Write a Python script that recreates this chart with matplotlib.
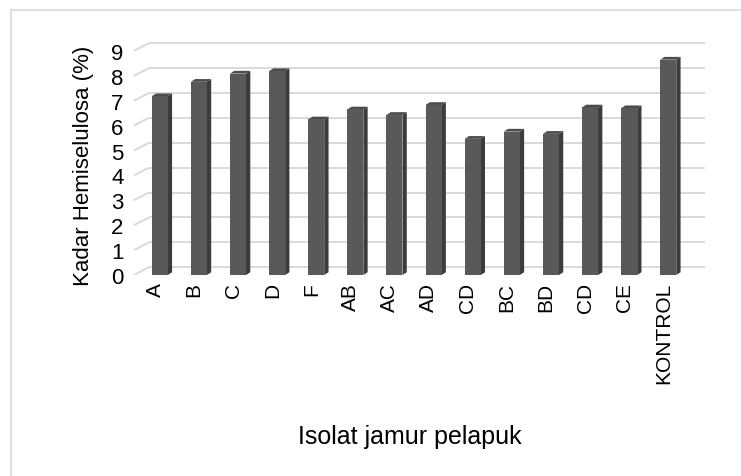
import numpy as np
import matplotlib
matplotlib.use("Agg")
import matplotlib.pyplot as plt
from matplotlib.patches import Polygon
from matplotlib.lines import Line2D

plt.rcParams['font.family'] = ['Liberation Sans', 'DejaVu Sans']

isolat = ['A', 'B', 'C', 'D', 'F', 'AB', 'AC', 'AD', 'CD', 'BC', 'BD', 'CD', 'CE', 'KONTROL']
kadar = [7.18, 7.76, 8.09, 8.19, 6.25, 6.65, 6.43, 6.83, 5.47, 5.76, 5.67, 6.73, 6.70, 8.65]
yticks = list(range(0, 10))

front_col = '#595959'
side_col = '#3c3c3c'
top_col = '#4b4b4b'
grid_col = '#d9d9d9'

# fake depth: side/top face offset and back wall offset (data units)
bar_w = 0.41
dx, dy = 0.11, 0.11
wall_dx, wall_dy = 0.38, 0.31

fig = plt.figure(figsize=(7.41, 4.77), dpi=100)
ax = fig.add_axes([0.176, 0.4214, 0.7707, 0.4906])
ax.set_xlim(-0.75, 13.85)
ax.set_ylim(0, 9.4)

x = np.arange(len(isolat))

# back wall gridlines with the slanted floor edge on the left
for k in yticks:
    ax.plot([-0.66, -0.66 + wall_dx], [k, k + wall_dy], color=grid_col, lw=1.4, zorder=1,
            solid_capstyle='butt')
    ax.plot([-0.66 + wall_dx, 13.93], [k + wall_dy, k + wall_dy], color=grid_col, lw=1.4,
            zorder=1, solid_capstyle='butt', clip_on=False)

ax.bar(x, kadar, width=bar_w, color=front_col, zorder=3, linewidth=0)
for xi, v in zip(x, kadar):
    x0, x1 = xi - bar_w / 2, xi + bar_w / 2
    side = Polygon([(x1, 0), (x1 + dx, dy), (x1 + dx, v + dy), (x1, v)],
                   closed=True, facecolor=side_col, edgecolor='none', zorder=2)
    top = Polygon([(x0, v), (x1, v), (x1 + dx, v + dy), (x0 + dx, v + dy)],
                  closed=True, facecolor=top_col, edgecolor='none', zorder=2)
    ax.add_patch(side)
    ax.add_patch(top)

ax.set_yticks(yticks)
ax.set_yticklabels([str(t) for t in yticks], fontsize=16)
ax.set_xticks(x - 0.12)
ax.set_xticklabels(isolat, rotation=90, fontsize=15, va='top')
ax.tick_params(axis='both', length=0)
ax.tick_params(axis='y', pad=5)
ax.tick_params(axis='x', pad=5)
for s in ax.spines.values():
    s.set_visible(False)
ax.patch.set_visible(False)

fig.text(83 / 741, 1 - 166 / 477, 'Kadar Hemiselulosa (%)', rotation=90,
         ha='center', va='center', fontsize=16)
fig.text(410 / 741, 1 - 437 / 477, 'Isolat jamur pelapuk', ha='center', va='center',
         fontsize=18)

# chart area border
fig.add_artist(Line2D([10.5 / 741, 1], [1 - 10.5 / 477, 1 - 10.5 / 477],
                      color=grid_col, lw=1.2, transform=fig.transFigure))
fig.add_artist(Line2D([10.5 / 741, 10.5 / 741], [0, 1 - 10.5 / 477],
                      color=grid_col, lw=1.2, transform=fig.transFigure))

fig.savefig('out.png', dpi=100)
